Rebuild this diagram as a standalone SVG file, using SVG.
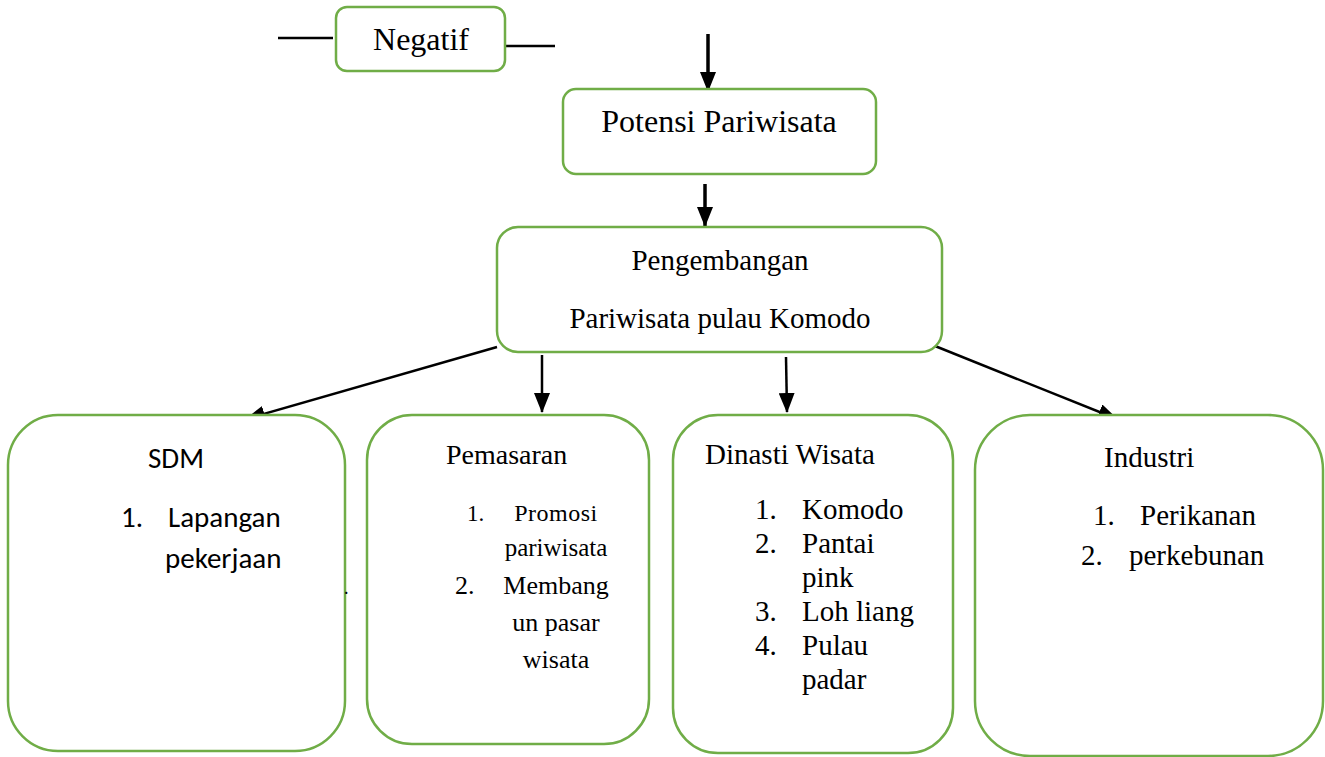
<svg xmlns="http://www.w3.org/2000/svg" width="1325" height="757" viewBox="0 0 1325 757">
<style>
.box{fill:#ffffff;stroke:#70AD47;stroke-width:2.5}
.ln{stroke:#000;stroke-width:2.5;fill:none}
.ar{stroke:#000;stroke-width:2.5;fill:none;marker-end:url(#ah)}
.ar3{stroke:#000;stroke-width:3.5;fill:none;marker-end:url(#ah)}
</style>
<defs>
<marker id="ah" markerUnits="userSpaceOnUse" markerWidth="20" markerHeight="16" viewBox="0 0 20 16" refX="19" refY="8" orient="auto">
<path d="M0,0 L20,8 L0,16 Z" fill="#000"/>
</marker>
</defs>
<rect width="1325" height="757" fill="#ffffff"/>
<g id="connectors">
<line class="ln" x1="278" y1="38" x2="333" y2="38" stroke-width="1.5"/>
<line class="ln" x1="502" y1="46" x2="555" y2="46" stroke-width="1.5"/>
<line class="ar3" x1="708" y1="34" x2="708" y2="91"/>
<line class="ar3" x1="705" y1="184" x2="705" y2="226"/>
<line class="ar" x1="497" y1="347" x2="246" y2="419"/>
<line class="ar" x1="542" y1="355" x2="542" y2="412"/>
<line class="ar" x1="786" y1="357" x2="787" y2="412"/>
<line class="ar" x1="935" y1="346" x2="1117" y2="419"/>
</g>
<g fill="#000" font-family="'Liberation Serif', 'Times New Roman', serif">
<g id="node-negatif">
<rect class="box" x="336" y="7" width="169" height="64" rx="11"/>
<text x="421" y="50" font-size="32" text-anchor="middle">Negatif</text>
</g>
<g id="node-potensi">
<rect class="box" x="563" y="89" width="313" height="85" rx="13"/>
<text x="719" y="132" font-size="32" text-anchor="middle">Potensi Pariwisata</text>
</g>
<g id="node-pengembangan">
<rect class="box" x="497" y="227" width="445" height="125" rx="21"/>
<text x="720" y="270" font-size="29" text-anchor="middle">Pengembangan</text>
<text x="720" y="328" font-size="29" text-anchor="middle">Pariwisata pulau Komodo</text>
</g>
<g id="node-pemasaran">
<rect class="box" x="367" y="415" width="282" height="329" rx="45"/>
<text x="446" y="464" font-size="28">Pemasaran</text>
<text x="467" y="521" font-size="23">1.</text>
<text x="556" y="521" font-size="24" text-anchor="middle" letter-spacing="0.5">Promosi</text>
<text x="556" y="556" font-size="25" text-anchor="middle">pariwisata</text>
<text x="455" y="594" font-size="26">2.</text>
<text x="556" y="594" font-size="26" text-anchor="middle">Membang</text>
<text x="556" y="631" font-size="26" text-anchor="middle">un pasar</text>
<text x="556" y="668" font-size="26" text-anchor="middle">wisata</text>
</g>
<g id="node-dinasti">
<rect class="box" x="673" y="415" width="280" height="338" rx="45"/>
<text x="705" y="464" font-size="29">Dinasti Wisata</text>
<text x="755" y="519" font-size="29">1.</text>
<text x="802" y="519" font-size="29">Komodo</text>
<text x="755" y="553" font-size="29">2.</text>
<text x="802" y="553" font-size="29">Pantai</text>
<text x="802" y="587" font-size="29">pink</text>
<text x="755" y="621" font-size="29">3.</text>
<text x="802" y="621" font-size="29">Loh liang</text>
<text x="755" y="655" font-size="29">4.</text>
<text x="802" y="655" font-size="29">Pulau</text>
<text x="802" y="689" font-size="29">padar</text>
</g>
<g id="node-industri">
<rect class="box" x="975" y="415" width="348" height="341" rx="55"/>
<text x="1104" y="467" font-size="29">Industri</text>
<text x="1093" y="525" font-size="29">1.</text>
<text x="1140" y="525" font-size="29">Perikanan</text>
<text x="1081" y="565" font-size="29">2.</text>
<text x="1129" y="565" font-size="29">perkebunan</text>
</g>
</g>
<g id="node-sdm" font-family="Carlito, Lato, 'Open Sans', sans-serif" fill="#000">
<rect class="box" x="8" y="415" width="337" height="336" rx="50"/>
<text x="176" y="468" font-size="29" text-anchor="middle">SDM</text>
<text x="121" y="527" font-size="29">1.</text>
<text x="168" y="527" font-size="29">Lapangan</text>
<text x="165" y="568" font-size="29">pekerjaan</text>
<text x="344" y="594" font-size="18">.</text>
</g>
</svg>
